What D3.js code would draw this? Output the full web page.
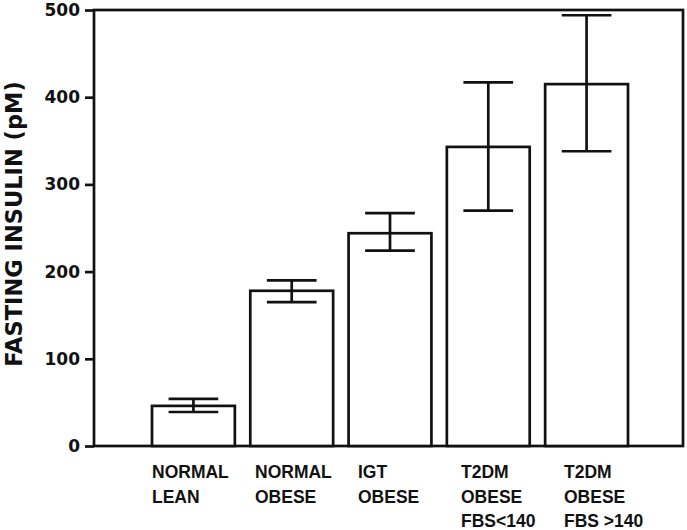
<!DOCTYPE html>
<html>
<head>
<meta charset="utf-8">
<script src="https://cdn.jsdelivr.net/npm/d3@7/dist/d3.min.js"></script>
<style>
  html, body { margin: 0; padding: 0; background: #fff; }
  svg { display: block; }
</style>
</head>
<body>
<svg id="chart" width="687" height="530"></svg>
<script>
// ---- data ----
const categories = ["NORMAL LEAN", "NORMAL OBESE", "IGT OBESE", "T2DM OBESE FBS<140", "T2DM OBESE FBS >140"];
const labelLines = [["NORMAL", "LEAN"], ["NORMAL", "OBESE"], ["IGT", "OBESE"], ["T2DM", "OBESE", "FBS<140"], ["T2DM", "OBESE", "FBS >140"]];
const means = [46, 178, 244, 343, 415];
const errUpper = [54, 190, 267, 417, 494];
const errLower = [39, 165, 224, 270, 338];
const yTicks = [0, 100, 200, 300, 400, 500];
const yTitle = "FASTING INSULIN (pM)";

// ---- layout ----
const svg = d3.select("#chart");
const ink = "#111";
const frame = { left: 94, right: 683, top: 10, bottom: 446 };

const y = d3.scaleLinear().domain([0, 500]).range([frame.bottom, frame.top]);
const x = d3.scaleBand().domain(categories).range([152, 628]).paddingInner(0.157).paddingOuter(0);
const xLabel = d3.scalePoint().domain(categories).range([152, 564]);

// frame
svg.append("rect")
  .attr("x", frame.left).attr("y", frame.top)
  .attr("width", frame.right - frame.left).attr("height", frame.bottom - frame.top)
  .attr("fill", "none").attr("stroke", ink).attr("stroke-width", 2.7);

// y axis
const yAxis = d3.axisLeft(y).tickValues(yTicks).tickSize(9).tickPadding(5).tickFormat(d3.format("d"));
const ya = svg.append("g").attr("transform", `translate(${frame.left},0)`).call(yAxis);
ya.select(".domain").remove();
ya.selectAll(".tick line").attr("stroke", ink).attr("stroke-width", 2.7);
ya.selectAll(".tick text")
  .attr("fill", ink)
  .style("font-family", "'DejaVu Sans', sans-serif")
  .style("font-weight", "bold")
  .style("font-size", "17px");

// y title
svg.append("text")
  .attr("transform", `translate(22,224) rotate(-90)`)
  .attr("text-anchor", "middle")
  .attr("fill", ink)
  .style("font-family", "'DejaVu Sans', sans-serif")
  .style("font-weight", "bold")
  .style("font-size", "22.5px")
  .text(yTitle);

// bars
svg.append("g").selectAll("rect")
  .data(categories)
  .join("rect")
  .attr("x", d => x(d))
  .attr("y", (d, i) => y(means[i]))
  .attr("width", x.bandwidth())
  .attr("height", (d, i) => y(0) - y(means[i]))
  .attr("fill", "#fff")
  .attr("stroke", ink)
  .attr("stroke-width", 2.7);

// error bars
const capW = x.bandwidth() * 0.6;
const eg = svg.append("g").attr("stroke", ink).attr("stroke-width", 2.7);
categories.forEach((c, i) => {
  const cx = x(c) + x.bandwidth() / 2;
  eg.append("line").attr("x1", cx).attr("x2", cx).attr("y1", y(errUpper[i])).attr("y2", y(errLower[i]));
  eg.append("line").attr("x1", cx - capW / 2).attr("x2", cx + capW / 2).attr("y1", y(errUpper[i])).attr("y2", y(errUpper[i]));
  eg.append("line").attr("x1", cx - capW / 2).attr("x2", cx + capW / 2).attr("y1", y(errLower[i])).attr("y2", y(errLower[i]));
});

// category labels
const lg = svg.append("g")
  .style("font-family", "'Liberation Sans', Arial, sans-serif")
  .style("font-weight", "bold")
  .style("font-size", "17.5px")
  .attr("fill", ink);
categories.forEach((c, i) => {
  const t = lg.append("text").attr("x", xLabel(c)).attr("y", 478);
  labelLines[i].forEach((ln, j) => {
    t.append("tspan").attr("x", xLabel(c)).attr("y", 478 + j * 24.5).text(ln);
  });
});
</script>
</body>
</html>
